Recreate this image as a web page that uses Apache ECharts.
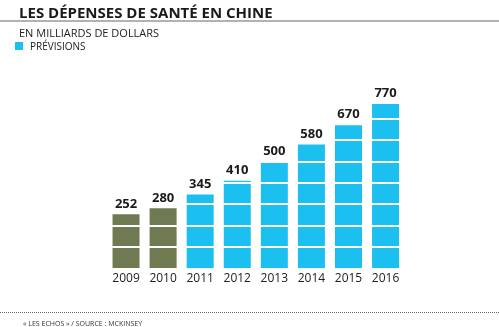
<!DOCTYPE html>
<html>
<head>
<meta charset="utf-8">
<style>html,body{margin:0;padding:0;background:#fff;}#c{width:499px;height:327px;}</style>
<script src="https://cdn.jsdelivr.net/npm/echarts@6/dist/echarts.min.js"></script>
</head>
<body>
<div id="c"></div>
<script>
const years = ['2009','2010','2011','2012','2013','2014','2015','2016'];
const values = [252, 280, 345, 410, 500, 580, 670, 770];
const forecast = [false, false, true, true, true, true, true, true];
const titleText = 'LES DÉPENSES DE SANTÉ EN CHINE';
const subtitleText = 'EN MILLIARDS DE DOLLARS';
const legendText = 'PRÉVISIONS';
const footerText = '« LES ECHOS » / SOURCE : MCKINSEY';

const BLUE = '#1bbff0';
const OLIVE = '#6f7a52';
const FONT = 'Open Sans';

const chart = echarts.init(document.getElementById('c'), null, {renderer: 'canvas'});
chart.setOption({
  backgroundColor: '#fff',
  animation: false,
  textStyle: {fontFamily: FONT},
  title: [
    {text: titleText, left: 14, top: 1, textStyle: {fontFamily: FONT, fontSize: 15, fontWeight: 'bold', color: '#1a1a1a'}},
    {text: subtitleText, left: 14, top: 23, textStyle: {fontFamily: FONT, fontSize: 11, fontWeight: 'normal', color: '#222'}},
    {text: legendText, left: 25, top: 37, textStyle: {fontFamily: FONT, fontSize: 10, fontWeight: 'normal', color: '#222'}},
    {text: footerText, left: 18, top: 315, textStyle: {fontFamily: FONT, fontSize: 7, fontWeight: 'normal', color: '#333'}}
  ],
  graphic: [
    {type: 'line', shape: {x1: 0, y1: 21, x2: 499, y2: 21}, style: {stroke: '#999', lineWidth: 1.5}},
    {type: 'rect', shape: {x: 15, y: 42, width: 8, height: 8}, style: {fill: BLUE}},
    {type: 'line', shape: {x1: 0, y1: 312.5, x2: 499, y2: 312.5}, style: {stroke: '#666', lineWidth: 1, lineDash: [1, 1]}}
  ],
  grid: {left: 107.5, right: 94.9, top: 97.6, bottom: 59, containLabel: false},
  xAxis: {
    type: 'category',
    data: years,
    axisLine: {show: false},
    axisTick: {show: false},
    axisLabel: {fontFamily: FONT, fontSize: 12, color: '#222', margin: 5}
  },
  yAxis: {
    type: 'value',
    min: 0, max: 800, interval: 100,
    z: 3,
    axisLine: {show: false},
    axisTick: {show: false},
    axisLabel: {show: false},
    splitLine: {show: true, showMinLine: false, showMaxLine: false, lineStyle: {color: '#fff', width: 2}}
  },
  series: [{
    type: 'bar',
    z: 2,
    data: values.map((v, i) => ({value: v, itemStyle: {color: forecast[i] ? BLUE : OLIVE}})),
    barWidth: 27
  }, {
    type: 'bar',
    z: 10,
    barGap: '-100%',
    barWidth: 27,
    silent: true,
    data: values,
    itemStyle: {color: 'rgba(0,0,0,0)'},
    label: {show: true, position: 'top', distance: 4, fontFamily: FONT, fontSize: 13, fontWeight: 'bold', color: '#1a1a1a'}
  }]
});
</script>
</body>
</html>
